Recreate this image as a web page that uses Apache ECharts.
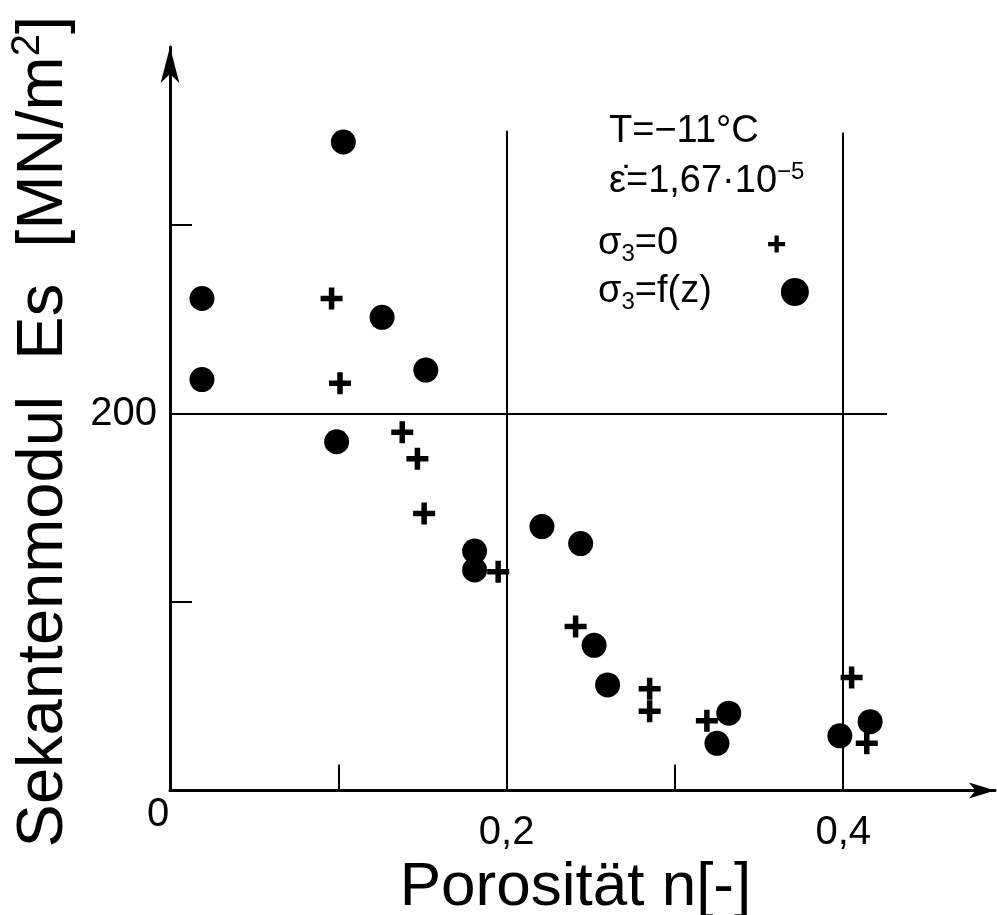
<!DOCTYPE html>
<html>
<head>
<meta charset="utf-8">
<style>
  html, body { margin: 0; padding: 0; background: #fff; }
  #chart { width: 997px; height: 915px; }
</style>
<script src="https://cdn.jsdelivr.net/npm/echarts@6/dist/echarts.min.js"></script>
</head>
<body>
<div id="chart"></div>
<script>
  // σ3 = 0  (crosses)
  var plusX = [0.096, 0.101, 0.138, 0.147, 0.151, 0.195, 0.241, 0.285, 0.285, 0.319, 0.405, 0.414]
  var plusY = [261, 216, 190, 176, 147, 116, 87, 54, 42, 37, 60, 25]
  // σ3 = f(z)  (dots)
  var dotX = [0.019, 0.019, 0.099, 0.103, 0.126, 0.152, 0.181, 0.181, 0.221, 0.244, 0.252, 0.260, 0.325, 0.332, 0.398, 0.416]
  var dotY = [261, 218, 185, 344, 251, 223, 127, 117, 140, 131, 77, 56, 25, 41, 29, 36.5]
  // tick / label values
  var xTicks = [0.1, 0.2, 0.3, 0.4]
  var xLabels = [0, 0.2, 0.4]
  var yTicks = [100, 200, 300]
  var yLabels = [200]
  // reference lines: [x, top of line] and [y, right end]
  var vLines = [[0.2, 350], [0.4, 349]]
  var hLines = [[200, 0.426]]

  var FONT = '"Liberation Sans", Arial, sans-serif'
  var INK = '#000'

  function pairs (xs, ys) {
    return xs.map(function (x, i) { return [x, ys[i]] })
  }

  var refLines = []
  vLines.forEach(function (l) {
    refLines.push([{coord: [l[0], 0]}, {coord: [l[0], l[1]]}])
  })
  hLines.forEach(function (l) {
    refLines.push([{coord: [0, l[0]]}, {coord: [l[1], l[0]]}])
  })

  var PLUS = 'path://M4.5,0h3v4.5h4.5v3h-4.5v4.5h-3v-4.5h-4.5v-3h4.5z'
  var subRich = {
    s: {fontSize: 38, fontFamily: FONT, color: INK, lineHeight: 44},
    sub: {fontSize: 24, fontFamily: FONT, color: INK, lineHeight: 24, verticalAlign: 'bottom'},
    g1: {width: 85},
    g2: {width: 64}
  }
  var legendNames = {
    'σ3=0': '{s|σ}{sub|3}{s|=0}{g1|}',
    'σ3=f(z)': '{s|σ}{sub|3}{s|=f(z)}{g2|}'
  }

  var chart = echarts.init(document.getElementById('chart'))
  chart.setOption({
    backgroundColor: '#fff',
    animation: false,
    grid: {left: 170, right: 2, top: 47, bottom: 124.5, outerBoundsMode: 'none'},
    legend: [
      {
        data: [{name: 'σ3=0', icon: PLUS}],
        left: 598, top: 225, padding: 0,
        align: 'right', itemWidth: 17, itemHeight: 17,
        formatter: function (n) { return legendNames[n] },
        textStyle: {rich: subRich}
      },
      {
        data: [{name: 'σ3=f(z)', icon: 'circle'}],
        left: 598, top: 273, padding: 0,
        align: 'right', itemWidth: 28, itemHeight: 28,
        formatter: function (n) { return legendNames[n] },
        textStyle: {rich: subRich}
      }
    ],
    graphic: [
      {
        type: 'text', left: 609, top: 113,
        style: {text: 'T=−11°C', font: '38px ' + FONT, fill: INK}
      },
      {
        type: 'text', left: 609, top: 160,
        style: {
          text: '{m|ε̇=1,67·10}{sup|−5}',
          rich: {
            m: {fontSize: 38, fontFamily: FONT, fill: INK, lineHeight: 44},
            sup: {fontSize: 24, fontFamily: FONT, fill: INK, lineHeight: 24, verticalAlign: 'top'}
          }
        }
      }
    ],
    xAxis: {
      type: 'value',
      min: 0,
      max: 0.4902,
      name: 'Porosität n[-]',
      nameLocation: 'middle',
      nameGap: 56,
      nameTextStyle: {fontSize: 62, fontFamily: FONT, color: INK, padding: [0, 14, 0, 0]},
      axisLine: {
        symbol: ['none', 'arrow'],
        symbolSize: [12, 26],
        lineStyle: {color: INK, width: 3}
      },
      axisTick: {
        inside: true, length: 26,
        customValues: xTicks,
        lineStyle: {color: INK, width: 2}
      },
      axisLabel: {
        customValues: xLabels,
        margin: 4,
        formatter: function (v) {
          return v === 0 ? '{z|0}' : '{n|' + v.toFixed(1).replace('.', ',') + '}'
        },
        rich: {
          z: {fontSize: 40, fontFamily: FONT, color: INK, padding: [0, 24, 0, 0]},
          n: {fontSize: 40, fontFamily: FONT, color: INK, padding: [18, 0, 0, 0]}
        }
      },
      splitLine: {show: false}
    },
    yAxis: {
      type: 'value',
      min: 0,
      max: 394.4,
      name: '{t|Sekantenmodul  Es  [MN/m}{sup|2}{t|]}',
      nameLocation: 'middle',
      nameRotate: 90,
      nameGap: 90,
      nameTextStyle: {
        padding: [0, 26, 0, 0],
        rich: {
          t: {fontSize: 65, fontFamily: FONT, color: INK, lineHeight: 72},
          sup: {fontSize: 40, fontFamily: FONT, color: INK, lineHeight: 40, verticalAlign: 'top'}
        }
      },
      axisLine: {
        symbol: ['none', 'arrow'],
        symbolSize: [14, 36],
        lineStyle: {color: INK, width: 3}
      },
      axisTick: {
        inside: true, length: 22,
        customValues: yTicks,
        lineStyle: {color: INK, width: 2}
      },
      axisLabel: {
        customValues: yLabels,
        margin: 13,
        fontSize: 40,
        fontFamily: FONT,
        color: INK
      },
      splitLine: {show: false}
    },
    series: [
      {
        name: 'σ3=0',
        type: 'scatter',
        symbol: PLUS,
        symbolSize: 22,
        itemStyle: {color: INK, opacity: 1},
        data: pairs(plusX, plusY),
        markLine: {
          silent: true,
          symbol: ['none', 'none'],
          label: {show: false},
          lineStyle: {color: INK, width: 2, type: 'solid', opacity: 1},
          data: refLines
        }
      },
      {
        name: 'σ3=f(z)',
        type: 'scatter',
        symbol: 'circle',
        symbolSize: 25,
        itemStyle: {color: INK, opacity: 1},
        data: pairs(dotX, dotY)
      }
    ]
  })
</script>
</body>
</html>
